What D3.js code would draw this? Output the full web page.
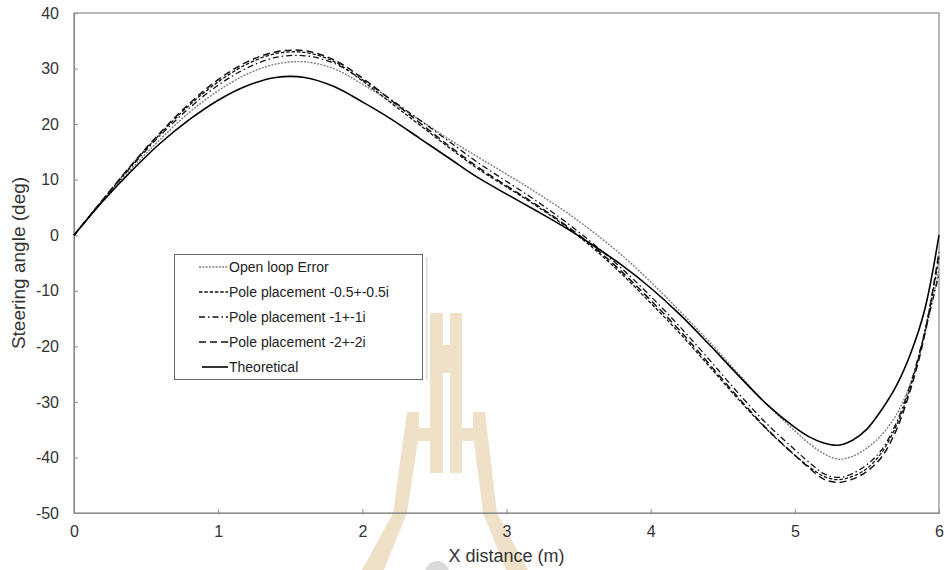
<!DOCTYPE html>
<html><head><meta charset="utf-8">
<script src="https://cdn.jsdelivr.net/npm/d3@7"></script>
<style>body{margin:0;background:#fff;} svg{display:block;font-family:"Liberation Sans",Arial,sans-serif;}</style>
</head><body>
<svg id="c" width="946" height="570"></svg>
<script>
const xs = [0,0.2,0.4,0.6,0.8,1.0,1.2,1.4,1.6,1.8,2.0,2.2,2.4,2.6,2.8,3.0,3.2,3.4,3.6,3.8,4.0,4.2,4.4,4.6,4.8,5.0,5.1,5.2,5.3,5.4,5.5,5.6,5.7,5.8,5.9,6.0];
const theoretical = [0,6.1,11.6,16.6,20.8,24.3,26.9,28.4,28.4,26.8,24.0,20.9,17.4,13.9,10.4,7.4,4.5,1.5,-1.8,-5.4,-9.5,-14.2,-19.5,-25.0,-30.3,-34.6,-36.3,-37.4,-37.8,-36.9,-34.9,-31.5,-27.3,-21.5,-13.5,0];
const openLoop = [0,6.2,12.0,17.3,22.1,26.0,29.0,30.8,31.2,30.0,27.2,24.0,20.7,17.3,14.1,11.0,7.8,4.4,0.6,-3.6,-8.4,-13.6,-19.0,-24.7,-30.3,-35.2,-37.5,-39.3,-40.3,-39.8,-38.3,-36.0,-32.5,-26.8,-18,-6];
const pole05 = [0,6.4,12.6,18.3,23.4,27.6,30.8,32.7,32.9,31.3,27.8,23.8,19.8,15.8,12.0,8.7,5.4,1.8,-2.3,-7.0,-12.2,-17.6,-23.4,-29.3,-34.8,-39.6,-41.7,-43.4,-44.0,-43.4,-42.0,-39.2,-34.5,-27.5,-17.5,-4];
const pole1 = [0,6.3,12.4,18.0,22.9,27.0,30.1,32.0,32.3,31.0,28.0,24.4,20.7,16.9,13.1,9.7,6.3,2.6,-1.5,-6.0,-11.0,-16.4,-22.2,-28.2,-33.8,-38.6,-40.9,-42.9,-43.6,-42.9,-41.3,-38.7,-34,-27,-17.5,-7];
const pole2 = [0,6.4,12.7,18.5,23.7,28.0,31.2,33.0,33.2,31.6,28.3,24.3,20.2,16.1,12.3,8.9,5.6,2.0,-2.0,-6.6,-11.7,-17.1,-23.0,-29.0,-34.7,-39.6,-41.9,-43.9,-44.5,-43.9,-42.5,-40.0,-35.3,-28,-18,-3];
const seriesNames = ["Open loop Error","Pole placement -0.5+-0.5i","Pole placement -1+-1i","Pole placement -2+-2i","Theoretical"];
const xTicks = [0,1,2,3,4,5,6];
const yTicks = [40,30,20,10,0,-10,-20,-30,-40,-50];

const styles = [
  {c:"#7f7f7f", w:1.4, d:"2,1.3"},
  {c:"#111", w:1.3, d:"3.5,1.8"},
  {c:"#111", w:1.3, d:"6,3,1.5,3"},
  {c:"#111", w:1.5, d:"7,4"},
  {c:"#000", w:1.6, d:null}
];
const data = [openLoop,pole05,pole1,pole2,theoretical];

const svg = d3.select("#c");
const L=74,R=939,T=13,B=513;
const x = d3.scaleLinear().domain([0,6]).range([L,R]);
const y = d3.scaleLinear().domain([-50,40]).range([B,T]);

// watermark
const wm = svg.append("g").attr("fill","#eee1c8");
const polys = [
  [[430,313],[443,313],[443,473],[430,473]],
  [[450,313],[462,313],[462,473],[450,473]],
  [[443,345],[450,345],[450,373],[443,373]],
  [[407,412],[419,412],[419,428],[430,428],[430,441],[418,441],[407,513],[384,570],[362,570],[393,513]],
  [[473,412],[485,412],[497,513],[528,570],[506,570],[483,513],[474,441],[462,441],[462,428],[473,428]]
];
polys.forEach(p=>wm.append("path").attr("d","M"+p.map(q=>q.join(",")).join("L")+"Z"));
svg.append("circle").attr("cx",437).attr("cy",573).attr("r",12).attr("fill","#d9d9d9");

// frame
svg.append("rect").attr("x",L).attr("y",T).attr("width",R-L).attr("height",B-T)
  .attr("fill","none").attr("stroke","#8c8c8c").attr("stroke-width",1.2);

// axes
const fmt = d => String(d);
const gx = svg.append("g").attr("transform",`translate(0,${B})`)
  .call(d3.axisBottom(x).tickValues(xTicks).tickSizeInner(-4).tickSizeOuter(0).tickPadding(13).tickFormat(fmt));
const gy = svg.append("g").attr("transform",`translate(${L},0)`)
  .call(d3.axisLeft(y).tickValues(yTicks).tickSizeInner(-4).tickSizeOuter(0).tickPadding(15).tickFormat(fmt));
[gx,gy].forEach(g=>{
  g.select(".domain").attr("stroke","#8c8c8c").attr("stroke-width",1.2);
  g.selectAll(".tick line").attr("stroke","#8c8c8c");
  g.selectAll(".tick text").attr("fill","#333").style("font-size","16px").style("font-family","'Liberation Sans',Arial,sans-serif");
});

// lines
const line = d3.line().x((d,i)=>x(xs[i])).y(d=>y(d)).curve(d3.curveCatmullRom.alpha(0.5));
data.forEach((s,k)=>{
  svg.append("path").datum(s).attr("d",line).attr("fill","none")
    .attr("stroke",styles[k].c).attr("stroke-width",styles[k].w)
    .attr("stroke-dasharray",styles[k].d);
});

// titles
svg.append("text").attr("x",(L+R)/2).attr("y",562).attr("text-anchor","middle")
  .attr("fill","#333").style("font-size","18px").text("X distance (m)");
svg.append("text").attr("transform",`translate(25,${(T+B)/2}) rotate(-90)`).attr("text-anchor","middle")
  .attr("fill","#333").style("font-size","19px").text("Steering angle (deg)");

// legend
const lg = svg.append("g");
lg.append("rect").attr("x",426).attr("y",257).attr("width",1.5).attr("height",123).attr("fill","#ddd");
lg.append("rect").attr("x",174.5).attr("y",254.5).attr("width",248).attr("height",125)
  .attr("fill","#fff").attr("stroke","#666").attr("stroke-width",1);
const rowsY = [267,292,317,342,367];
seriesNames.forEach((n,k)=>{
  const yy = rowsY[k];
  lg.append("line").attr("x1",k===4?202:199).attr("x2",228).attr("y1",yy).attr("y2",yy)
    .attr("stroke",styles[k].c).attr("stroke-width",styles[k].w).attr("stroke-dasharray",styles[k].d);
  lg.append("text").attr("x",229).attr("y",yy+5).attr("fill","#222").style("font-size","14px").text(n);
});
</script>
</body></html>
